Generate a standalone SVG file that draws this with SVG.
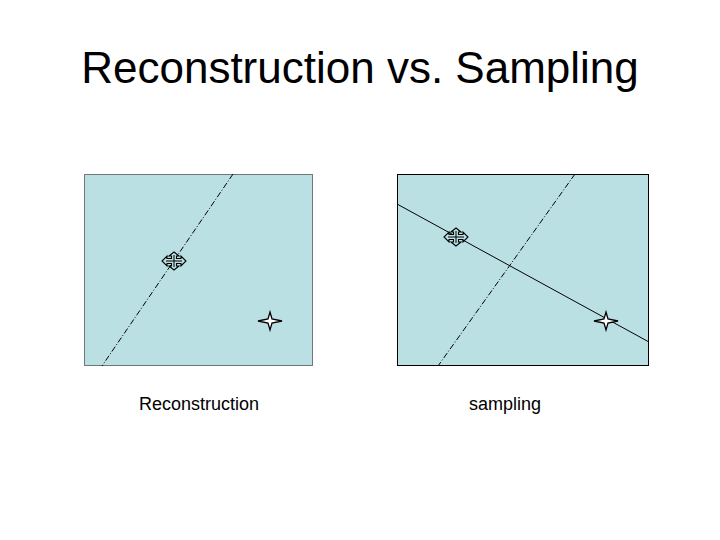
<svg xmlns="http://www.w3.org/2000/svg" width="720" height="540" viewBox="0 0 720 540">
<style>
.t{font-family:"Liberation Sans",Arial,sans-serif;fill:#000}
.dd{stroke:#000;stroke-width:1;stroke-dasharray:6,2,1,2;fill:none}
</style>
<defs>
<g id="move">
<path d="M0,-9 L5,-5 L2.5,-5 L2.5,-2.5 L7,-2.5 L7,-5 L12,0 L7,5 L7,2.5 L2.5,2.5 L2.5,5 L5,5 L0,9 L-5,5 L-2.5,5 L-2.5,2.5 L-7,2.5 L-7,5 L-12,0 L-7,-5 L-7,-2.5 L-2.5,-2.5 L-2.5,-5 L-5,-5 Z" fill="#bbe0e3" stroke="#000" stroke-width="1.1"/>
<path d="M-8,0 H8 M0,-6 V6" stroke="#000" stroke-width="1"/>
</g>
<g id="star">
<path d="M0,-9 L2,-2 L12,0 L2,2 L0,9 L-2,2 L-12,0 L-2,-2 Z" fill="#fff" stroke="#000" stroke-width="1.3"/>
</g>
</defs>
<rect width="720" height="540" fill="#fff"/>
<text class="t" x="360" y="83" font-size="44" text-anchor="middle">Reconstruction vs. Sampling</text>
<g id="left">
<rect x="84.5" y="174.5" width="228" height="191" fill="#bbe0e3" stroke="#000" stroke-dasharray="1,1"/>
<text class="t" x="199" y="410" font-size="18" text-anchor="middle">Reconstruction</text>
</g>
<g id="right">
<rect x="397.5" y="174.5" width="251" height="191" fill="#bbe0e3" stroke="#000"/>
<text class="t" x="505" y="410" font-size="18" text-anchor="middle">sampling</text>
</g>
<g id="connectors">
<line class="dd" x1="233" y1="174" x2="102" y2="366"/>
<line class="dd" x1="575" y1="174" x2="438" y2="366"/>
<line x1="397" y1="204" x2="649" y2="342" stroke="#000"/>
</g>
<g id="icons">
<use href="#move" x="174" y="261"/>
<use href="#star" x="270" y="321"/>
<use href="#move" x="456" y="237"/>
<use href="#star" x="606" y="321"/>
</g>
</svg>
